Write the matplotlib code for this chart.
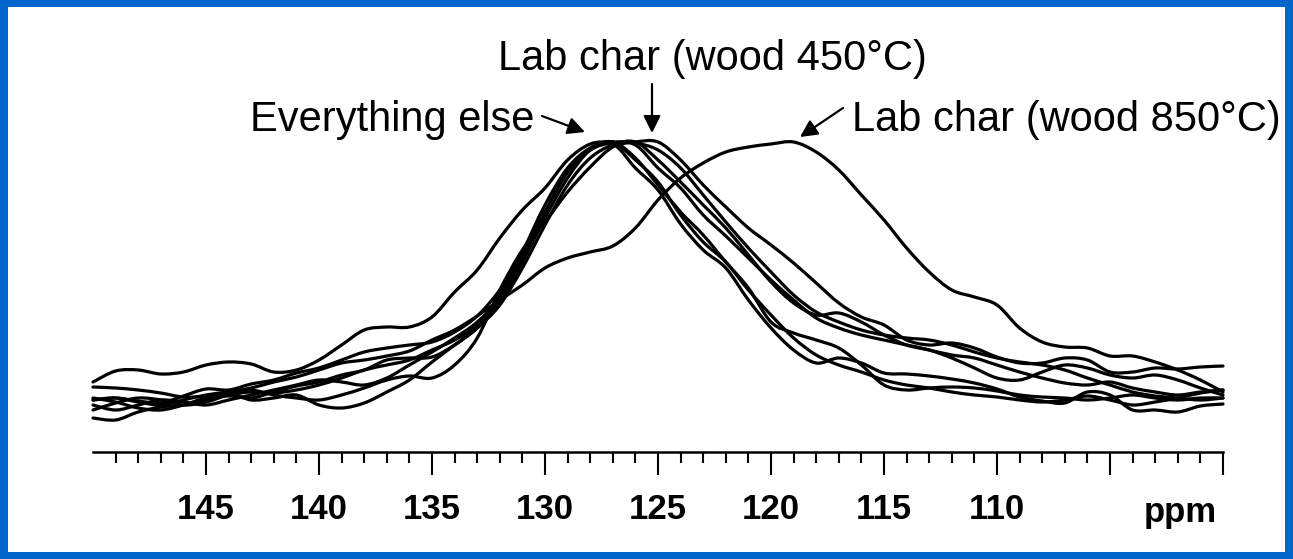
import matplotlib
matplotlib.use("Agg")
import matplotlib.pyplot as plt
from matplotlib.patches import Rectangle, PathPatch
from matplotlib.path import Path
import numpy as np

# chemical shift grid (ppm), 150 -> 100
ppm = list(range(150, 99, -1))

# intensities (arbitrary units), one value per ppm above
broad_else = [38, 49, 50, 46, 48, 55, 58, 56, 48, 50, 60, 75, 90, 93, 93, 103, 128, 150, 182, 210,
              232, 260, 276, 278, 277, 270, 252, 225, 198, 172, 148, 125, 108, 98, 90, 85, 82, 80, 75, 68,
              62, 58, 55, 50, 42, 35, 28, 24, 22, 20, 22]
char_450 = [20, 22, 18, 15, 20, 25, 28, 30, 25, 22, 20, 25, 32, 40, 44, 42, 55, 82, 130, 170,
            198, 228, 253, 273, 278, 278, 260, 235, 213, 192, 175, 157, 137, 117, 103, 95, 80, 75, 77, 72,
            63, 57, 57, 62, 60, 48, 48, 52, 51, 53, 54]
char_850 = [33, 32, 30, 27, 23, 24, 28, 32, 38, 43, 50, 57, 60, 64, 69, 80, 90, 104, 120, 135,
            152, 162, 168, 174, 192, 220, 242, 257, 268, 273, 276, 278, 268, 250, 225, 200, 172, 148, 130, 123,
            115, 92, 78, 73, 72, 64, 64, 58, 50, 40, 28]
else_a = [20, 22, 19, 17, 24, 31, 30, 36, 40, 47, 52, 60, 68, 72, 75, 78, 88, 104, 130, 165,
          208, 248, 270, 276, 252, 230, 196, 170, 152, 120, 92, 70, 57, 62, 57, 47, 46, 44, 41, 37,
          31, 23, 19, 17, 28, 25, 10, 10, 8, 14, 16]
else_b = [2, 0, 8, 13, 15, 20, 27, 20, 22, 25, 15, 12, 17, 28, 40, 58, 75, 92, 118, 158,
          202, 242, 270, 278, 262, 235, 208, 185, 158, 132, 98, 87, 80, 72, 55, 35, 30, 32, 33, 32,
          29, 25, 23, 22, 20, 22, 25, 22, 20, 22, 22]
else_c = [15, 10, 15, 20, 18, 15, 20, 25, 30, 35, 40, 38, 35, 42, 55, 68, 82, 98, 122, 162,
          208, 248, 270, 277, 275, 252, 232, 205, 184, 162, 140, 120, 102, 92, 85, 80, 75, 70, 62, 52,
          42, 40, 48, 55, 52, 45, 42, 45, 40, 32, 25]
else_d = [10, 17, 22, 20, 15, 18, 25, 28, 27, 30, 35, 42, 50, 55, 60, 70, 80, 95, 125, 168,
          215, 252, 272, 278, 260, 238, 205, 178, 158, 130, 105, 82, 65, 55, 48, 40, 35, 32, 28, 25,
          23, 20, 18, 20, 24, 20, 15, 18, 22, 27, 30]
else_e = [22, 18, 12, 10, 15, 22, 24, 22, 28, 34, 38, 45, 50, 60, 62, 63, 75, 92, 115, 152,
          195, 235, 262, 275, 278, 260, 238, 215, 192, 165, 138, 117, 105, 107, 98, 85, 75, 70, 65, 62,
          55, 48, 42, 37, 35, 38, 32, 28, 25, 28, 30]

spectra = [broad_else, char_450, char_850, else_a, else_b, else_c, else_d, else_e]

major_ticks = [145, 140, 135, 130, 125, 120, 115, 110, 105, 100]
major_labels = ["145", "140", "135", "130", "125", "120", "115", "110", "", ""]
minor_ticks = [v for v in range(149, 100, -1) if v % 5 != 0]


def smooth_path(xs, ys):
    """Smooth curve through the data points (Catmull-Rom drawn as cubic Bezier)."""
    P = np.column_stack([xs, ys]).astype(float)
    n = len(P)
    verts = [P[0]]
    codes = [Path.MOVETO]
    for i in range(n - 1):
        p0 = P[i - 1] if i > 0 else P[i]
        p1, p2 = P[i], P[i + 1]
        p3 = P[i + 2] if i + 2 < n else P[i + 1]
        c1 = p1 + (p2 - p0) / 6.0
        c2 = p2 - (p3 - p1) / 6.0
        verts += [c1, c2, p2]
        codes += [Path.CURVE4] * 3
    return Path(verts, codes)


W, H = 1293, 559
fig = plt.figure(figsize=(W / 100, H / 100), dpi=100)
fig.patch.set_facecolor("#0066CC")
fig.patches.append(Rectangle((8 / W, 7 / H), 1277 / W, 545 / H, transform=fig.transFigure,
                             facecolor="white", edgecolor="none", zorder=-1))

ax = fig.add_axes([93 / W, (H - 452) / H, (1223 - 93) / W, (452 - 130) / H])
ax.set_facecolor("none")
for s in spectra:
    ax.add_patch(PathPatch(smooth_path(ppm, s), facecolor="none", edgecolor="black",
                           lw=2.3, joinstyle="round", capstyle="round", clip_on=False))

ax.set_xlim(150, 100)
ax.set_ylim(-32, 290)
for side in ["top", "left", "right"]:
    ax.spines[side].set_visible(False)
ax.spines["bottom"].set_linewidth(1.8)
ax.set_yticks([])
ax.set_xticks(major_ticks)
ax.set_xticklabels(major_labels)
ax.set_xticks(minor_ticks, minor=True)
ax.tick_params(axis="x", which="major", length=16.5, width=1.5, pad=13,
               labelsize=25)
ax.tick_params(axis="x", which="minor", length=8, width=1.5)
for lab in ax.get_xticklabels():
    lab.set_fontweight("bold")
    lab.set_fontfamily("Liberation Sans")


def fy(y):
    return H - y


fig.text(1180 / W, fy(522) / H, "ppm", ha="center", va="baseline", fontsize=25,
         fontweight="bold", family="Liberation Sans")

font = dict(fontsize=30, family="Liberation Sans", color="black")
fig.text(250 / W, fy(131) / H, "Everything else", ha="left", va="baseline", **font)
fig.text(498 / W, fy(70) / H, "Lab char (wood 450°C)", ha="left", va="baseline", **font)
fig.text(852 / W, fy(131) / H, "Lab char (wood 850°C)", ha="left", va="baseline", **font)

arrow = dict(arrowstyle="-|>", color="black", lw=1.6, mutation_scale=26, shrinkA=0, shrinkB=0)
ax.annotate("", xy=(585, fy(132)), xytext=(542, fy(116)), xycoords="figure pixels",
            textcoords="figure pixels", arrowprops=arrow)
ax.annotate("", xy=(652, fy(133)), xytext=(652, fy(84)), xycoords="figure pixels",
            textcoords="figure pixels", arrowprops=arrow)
ax.annotate("", xy=(800, fy(137)), xytext=(843, fy(108)), xycoords="figure pixels",
            textcoords="figure pixels", arrowprops=arrow)

fig.savefig("out.png", dpi=100, facecolor=fig.get_facecolor())
